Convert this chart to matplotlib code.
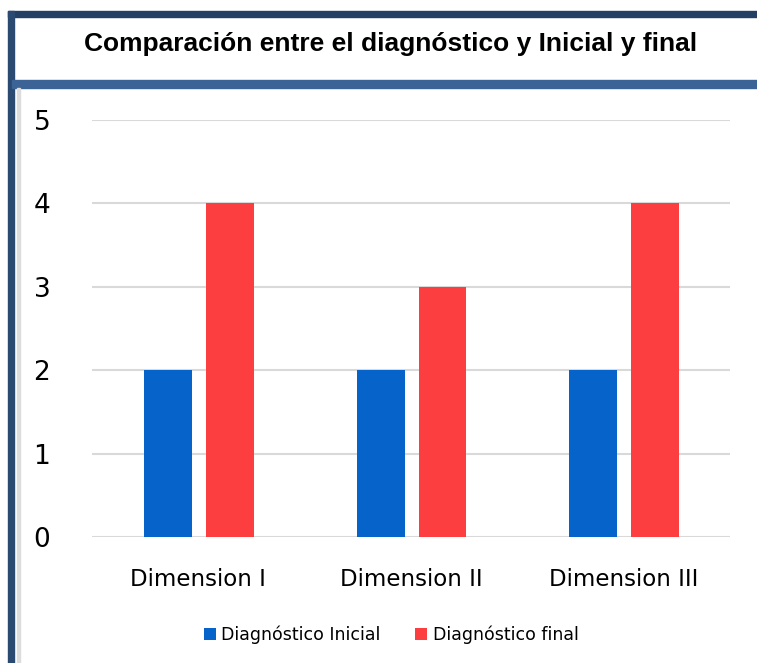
import matplotlib.pyplot as plt
from matplotlib.patches import Rectangle
import numpy as np

categories = ["Dimension I", "Dimension II", "Dimension III"]
inicial = [2, 2, 2]
final = [4, 3, 4]
series_names = ["Diagnóstico Inicial", "Diagnóstico final"]
title = "Comparación entre el diagnóstico y Inicial y final"

W, H = 757, 663
fig = plt.figure(figsize=(W / 100, H / 100), dpi=100)


def px_rect(x0, y0, x1, y1, color):
    # rectangle given in pixel coords (origin top-left)
    fig.patches.append(Rectangle((x0 / W, 1 - y1 / H), (x1 - x0) / W, (y1 - y0) / H,
                                 transform=fig.transFigure, color=color, zorder=0))


# frame around chart
px_rect(8, 11, W, 17, "#233f63")
px_rect(8, 11, 14, H, "#2a4a72")
px_rect(12, 80, W, 88, "#3b6396")
px_rect(17, 88, 20, H, "#dcdcdc")

fig.text(391 / W, 1 - 44 / H, title, ha="center", va="center", fontsize=19,
         fontweight="bold", family=["Liberation Sans", "DejaVu Sans"])

ax = fig.add_axes([92 / W, 1 - 537 / H, (730 - 92) / W, (537 - 120) / H])
x = np.arange(len(categories))
w = 0.225
ax.bar(x - 0.143, inicial, w, color="#0563c9", label=series_names[0], zorder=3)
ax.bar(x + 0.148, final, w, color="#fd3e40", label=series_names[1], zorder=3)

ax.set_xlim(-0.5, 2.5)
ax.set_ylim(0, 5)
ax.set_yticks(range(6))
ax.yaxis.grid(True, color="#d9d9d9", linewidth=1.5, zorder=0)
for s in ax.spines.values():
    s.set_visible(False)
ax.tick_params(length=0)
ax.tick_params(axis="y", labelsize=19, pad=30)
ax.tick_params(axis="x", labelsize=16.5, pad=22)
ax.set_xticks(x)
ax.set_xticklabels(categories)

leg = ax.legend(loc="center", bbox_to_anchor=(0.469, -0.235), ncol=2, frameon=False,
                handlelength=0.7, handleheight=0.7, handletextpad=0.3,
                columnspacing=2.0, prop={"size": 12.5})

fig.savefig("out.png", dpi=100)
